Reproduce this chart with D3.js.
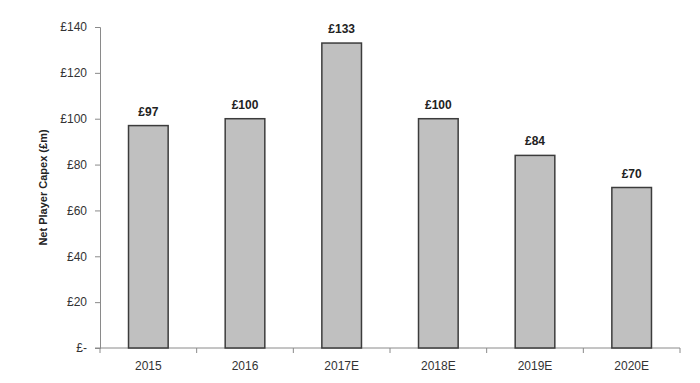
<!DOCTYPE html>
<html>
<head>
<meta charset="utf-8">
<script src="https://cdn.jsdelivr.net/npm/d3@7"></script>
<style>
  body { margin: 0; background: #fff; }
  svg { display: block; font-family: "Liberation Sans", Arial, sans-serif; }
</style>
</head>
<body>
<div class="chart"></div>
<script>
const years = ["2015", "2016", "2017E", "2018E", "2019E", "2020E"];
const capex = [97, 100, 133, 100, 84, 70];
const yTicks = [0, 20, 40, 60, 80, 100, 120, 140];

const width = 700;
const height = 383;
const margin = { top: 27, bottom: 35, left: 100, right: 20 };

const svg = d3.select('.chart')
  .append('svg')
  .attr('width', width)
  .attr('height', height);

const x = d3.scaleBand()
  .domain(years)
  .range([margin.left, width - margin.right])
  .paddingInner(0.59)
  .paddingOuter(0.295);

const y = d3.scaleLinear()
  .domain([0, 140])
  .range([height - margin.bottom, margin.top]);

const fmt = d => d === 0 ? "£-" : `£${d}`;

// y axis
const yAxis = svg.append("g")
  .attr("transform", `translate(${margin.left},0)`)
  .call(d3.axisLeft(y).tickValues(yTicks).tickFormat(fmt).tickSize(5).tickPadding(8));
yAxis.select(".domain").attr("stroke", "#8a8a8a");
yAxis.selectAll(".tick line").attr("stroke", "#8a8a8a");
yAxis.selectAll("text").attr("font-size", "12px").attr("fill", "#333")
  .attr("font-family", "Liberation Sans, Arial, sans-serif");

// x axis, ticks on band edges
const xAxis = svg.append("g")
  .attr("transform", `translate(0,${y(0)})`);
xAxis.append("line")
  .attr("x1", margin.left - 5).attr("x2", width - margin.right)
  .attr("stroke", "#8a8a8a");
const edges = d3.range(years.length + 1).map(i => x.range()[0] + i * (x.range()[1] - x.range()[0]) / years.length);
xAxis.selectAll(".edge")
  .data(edges)
  .join("line")
  .attr("x1", d => d).attr("x2", d => d)
  .attr("y1", 0).attr("y2", 5)
  .attr("stroke", "#8a8a8a");
xAxis.selectAll(".lbl")
  .data(years)
  .join("text")
  .attr("x", d => x(d) + x.bandwidth() / 2)
  .attr("y", 22)
  .attr("text-anchor", "middle")
  .attr("font-size", "12px")
  .attr("fill", "#333")
  .text(d => d);

// bars
svg.append("g")
  .selectAll("rect")
  .data(capex)
  .join("rect")
  .attr("x", (d, i) => x(years[i]))
  .attr("y", d => y(d))
  .attr("width", x.bandwidth())
  .attr("height", d => y(0) - y(d))
  .attr("fill", "#c0c0c0")
  .attr("stroke", "#3c3c3c")
  .attr("stroke-width", 1.5);

// value labels
svg.append("g")
  .selectAll("text")
  .data(capex)
  .join("text")
  .attr("x", (d, i) => x(years[i]) + x.bandwidth() / 2)
  .attr("y", d => y(d) - 10)
  .attr("text-anchor", "middle")
  .attr("font-size", "12px")
  .attr("font-weight", "bold")
  .attr("fill", "#222")
  .text(d => `£${d}`);

// y title
svg.append("text")
  .attr("transform", `translate(47,${(y(0) + y(140)) / 2}) rotate(-90)`)
  .attr("text-anchor", "middle")
  .attr("font-size", "11px")
  .attr("font-weight", "bold")
  .attr("fill", "#222")
  .text("Net Player Capex (£m)");
</script>
</body>
</html>
